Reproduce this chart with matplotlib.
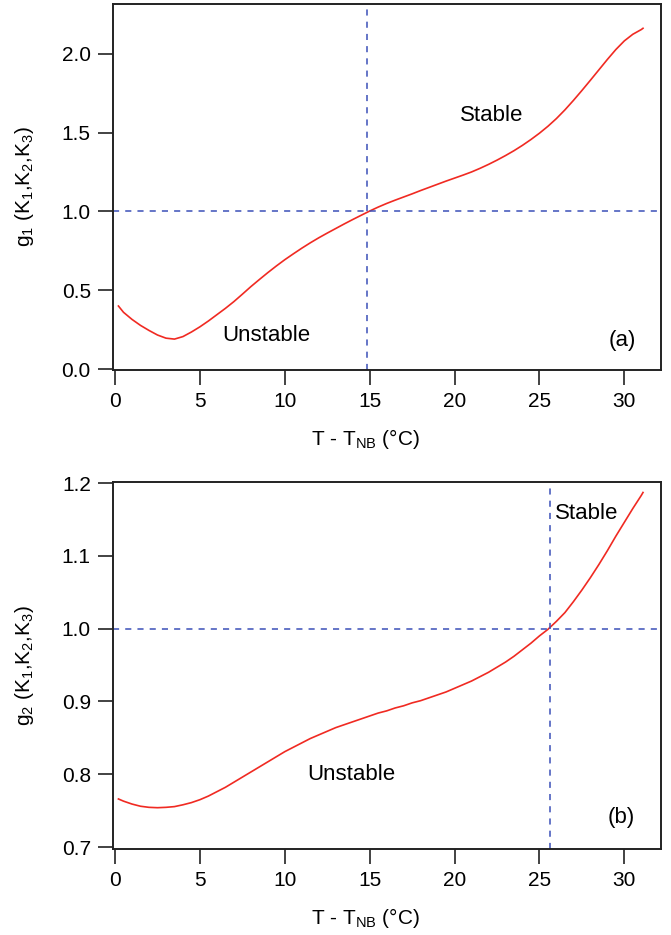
import numpy as np
import matplotlib
matplotlib.use('Agg')
import matplotlib.pyplot as plt

plt.rcParams['font.family'] = ['Liberation Sans', 'DejaVu Sans']
plt.rcParams['mathtext.default'] = 'regular'

# values
t1 = [0.2, 0.5, 1.0, 1.5, 2.0, 2.5, 3.0, 3.5, 4.0, 4.5, 5.0, 5.5, 6.0, 6.5,
      7.0, 7.5, 8.0, 8.5, 9.0, 9.5, 10.0, 10.5, 11.0, 11.5, 12.0, 12.5, 13.0,
      13.5, 14.0, 14.5, 15.0, 15.5, 16.0, 16.5, 17.0, 17.5, 18.0, 18.5, 19.0,
      19.5, 20.0, 20.5, 21.0, 21.5, 22.0, 22.5, 23.0, 23.5, 24.0, 24.5, 25.0,
      25.5, 26.0, 26.5, 27.0, 27.5, 28.0, 28.5, 29.0, 29.5, 30.0, 30.5, 31.0,
      31.1]
g1 = [0.400, 0.360, 0.315, 0.277, 0.245, 0.216, 0.196, 0.190, 0.206, 0.235,
      0.268, 0.305, 0.345, 0.385, 0.428, 0.475, 0.523, 0.568, 0.612, 0.654,
      0.694, 0.731, 0.767, 0.801, 0.833, 0.863, 0.892, 0.921, 0.949, 0.976,
      1.003, 1.028, 1.051, 1.072, 1.092, 1.112, 1.133, 1.153, 1.173, 1.193,
      1.212, 1.231, 1.251, 1.274, 1.299, 1.326, 1.355, 1.386, 1.420, 1.457,
      1.497, 1.541, 1.590, 1.645, 1.705, 1.768, 1.833, 1.899, 1.965, 2.028,
      2.083, 2.125, 2.155, 2.163]

t2 = t1
g2 = [0.766, 0.763, 0.759, 0.756, 0.7545, 0.754, 0.7545, 0.7555, 0.758,
      0.761, 0.765, 0.770, 0.776, 0.782, 0.789, 0.796, 0.803, 0.810, 0.817,
      0.824, 0.831, 0.837, 0.843, 0.849, 0.854, 0.859, 0.864, 0.868, 0.872,
      0.876, 0.880, 0.884, 0.887, 0.891, 0.894, 0.898, 0.901, 0.905, 0.909,
      0.913, 0.918, 0.923, 0.928, 0.934, 0.940, 0.947, 0.954, 0.962, 0.971,
      0.980, 0.990, 0.999, 1.010, 1.022, 1.037, 1.053, 1.070, 1.088, 1.107,
      1.127, 1.146, 1.165, 1.183, 1.187]

cross1 = 14.85
cross2 = 25.6
xticks = [0, 5, 10, 15, 20, 25, 30]
yticks1 = [0.0, 0.5, 1.0, 1.5, 2.0]
yticks2 = [0.7, 0.8, 0.9, 1.0, 1.1, 1.2]

red = '#f02a22'
blue = '#3a4fb8'

fig = plt.figure(figsize=(6.71, 9.35), dpi=100)
ax1 = fig.add_axes([0.1684, 0.6043, 0.8167, 0.3914])
ax2 = fig.add_axes([0.1684, 0.0920, 0.8167, 0.3925])


def style(ax, yticks, ylabel):
    ax.set_xlim(-0.12, 32.16)
    ax.set_xticks(xticks)
    ax.set_yticks(yticks)
    ax.set_yticklabels(['%.1f' % v for v in yticks])
    ax.tick_params(direction='out', length=11, width=1.2, labelsize=15,
                   color='#222222', pad=5)
    for s in ax.spines.values():
        s.set_linewidth(1.4)
        s.set_color('#222222')
    ax.set_xlabel('T - T$_{NB}$ (°C)', fontsize=15)
    ax.set_ylabel(ylabel, fontsize=15)
    ax.xaxis.set_label_coords(0.46, -0.155)
    ax.yaxis.set_label_coords(-0.14, 0.5)


ax1.plot(t1, g1, color=red, lw=1.2)
ax1.axhline(1.0, color=blue, ls=(0, (4, 4)), lw=1.1)
ax1.axvline(cross1, color=blue, ls=(0, (4, 4)), lw=1.1)
ax1.set_ylim(-0.006, 2.317)
style(ax1, yticks1, 'g$_1$ (K$_1$,K$_2$,K$_3$)')
ax1.text(22.2, 1.61, 'Stable', fontsize=16, ha='center', va='center')
ax1.text(8.9, 0.21, 'Unstable', fontsize=16, ha='center', va='center')
ax1.text(29.9, 0.18, '(a)', fontsize=16, ha='center', va='center')

ax2.plot(t2, g2, color=red, lw=1.2)
ax2.axhline(1.0, color=blue, ls=(0, (4, 4)), lw=1.1)
ax2.axvline(cross2, color=blue, ls=(0, (4, 4)), lw=1.1)
ax2.set_ylim(0.6973, 1.2014)
style(ax2, yticks2, 'g$_2$ (K$_1$,K$_2$,K$_3$)')
ax2.text(27.8, 1.158, 'Stable', fontsize=16, ha='center', va='center')
ax2.text(13.9, 0.80, 'Unstable', fontsize=16, ha='center', va='center')
ax2.text(29.8, 0.741, '(b)', fontsize=16, ha='center', va='center')

fig.savefig('out.png', dpi=100)
